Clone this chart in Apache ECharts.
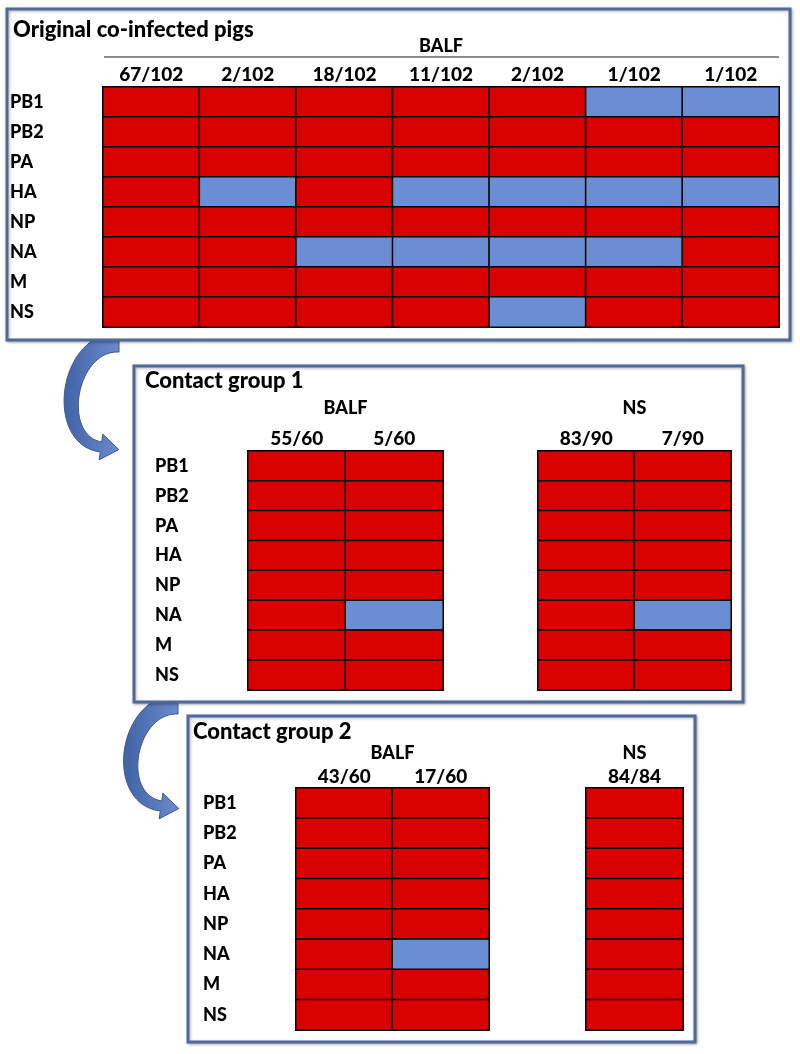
<!DOCTYPE html>
<html><head><meta charset="utf-8">
<script src="https://cdn.jsdelivr.net/npm/echarts@6/dist/echarts.min.js"></script>
<style>html,body{margin:0;padding:0;background:#fff}#c{width:800px;height:1054px}</style>
</head><body><div id="c"></div>
<script>
// ---- data ----
const genes = ['PB1','PB2','PA','HA','NP','NA','M','NS'];
// 1 = red (segment from one parent), 0 = blue (other parent); rows follow genes
const origCols = ['67/102','2/102','18/102','11/102','2/102','1/102','1/102'];
const origBALF = [
  [1,1,1,1,1,0,0],
  [1,1,1,1,1,1,1],
  [1,1,1,1,1,1,1],
  [1,0,1,0,0,0,0],
  [1,1,1,1,1,1,1],
  [1,1,0,0,0,0,1],
  [1,1,1,1,1,1,1],
  [1,1,1,1,0,1,1]
];
const cg1BalfCols = ['55/60','5/60'];
const cg1BALF = [[1,1],[1,1],[1,1],[1,1],[1,1],[1,0],[1,1],[1,1]];
const cg1NsCols = ['83/90','7/90'];
const cg1NS = [[1,1],[1,1],[1,1],[1,1],[1,1],[1,0],[1,1],[1,1]];
const cg2BalfCols = ['43/60','17/60'];
const cg2BALF = [[1,1],[1,1],[1,1],[1,1],[1,1],[1,0],[1,1],[1,1]];
const cg2NsCols = ['84/84'];
const cg2NS = [[1],[1],[1],[1],[1],[1],[1],[1]];

const RED = '#d90000', BLUE = '#6a8dd4';
const FONT = 'Lato';
const FW = 900;

function toData(m){ const d=[]; m.forEach((row,r)=>row.forEach((v,c)=>d.push([c,r,v]))); return d; }

const panels = [
  {cols:origCols, m:origBALF, name:'BALF', genes:true, gap:32, lm:3, g:{left:103, top:87, width:676, height:240}},
  {cols:cg1BalfCols, m:cg1BALF, name:'BALF', genes:true, gap:34, lm:3, g:{left:248, top:451, width:195, height:239}},
  {cols:cg1NsCols, m:cg1NS, name:'NS', genes:false, gap:34, lm:3, g:{left:538, top:451, width:193, height:239}},
  {cols:cg2BalfCols, m:cg2BALF, name:'BALF', genes:true, gap:26, lm:2, g:{left:296, top:788, width:193, height:242}},
  {cols:cg2NsCols, m:cg2NS, name:'NS', genes:false, gap:26, lm:2, g:{left:586, top:788, width:97, height:242}}
];

const grid=[], xAxis=[], yAxis=[], series=[];
panels.forEach((p,i)=>{
  grid.push(Object.assign({containLabel:false}, p.g));
  xAxis.push({type:'category', gridIndex:i, position:'top', data:p.cols, z:10,
    name:p.name, nameLocation:'middle', nameGap:p.gap,
    nameTextStyle:{fontFamily:FONT, fontWeight:FW, fontSize:18, color:'#000'},
    axisLine:{show:false}, axisTick:{show:false}, splitLine:{show:false},
    axisLabel:{fontFamily:FONT, fontWeight:FW, fontSize:19, color:'#000', margin:p.lm}});
  yAxis.push({type:'category', gridIndex:i, data:genes, inverse:true, z:10,
    axisLine:{show:false}, axisTick:{show:false}, splitLine:{show:false},
    axisLabel:{show:p.genes, align:'left', margin:93, fontFamily:FONT, fontWeight:FW, fontSize:18, color:'#000'}});
  series.push({type:'heatmap', xAxisIndex:i, yAxisIndex:i, data:toData(p.m),
    itemStyle:{borderColor:'#000', borderWidth:1.5}, emphasis:{disabled:true}});
});

function arrow(S,C1,C2,E,w0,w1,hw,hl){
  const N=40, L=[], R=[];
  for(let k=0;k<=N;k++){
    const t=k/N, u=1-t;
    const x=u*u*u*S[0]+3*u*u*t*C1[0]+3*u*t*t*C2[0]+t*t*t*E[0];
    const y=u*u*u*S[1]+3*u*u*t*C1[1]+3*u*t*t*C2[1]+t*t*t*E[1];
    const dx=3*u*u*(C1[0]-S[0])+6*u*t*(C2[0]-C1[0])+3*t*t*(E[0]-C2[0]);
    const dy=3*u*u*(C1[1]-S[1])+6*u*t*(C2[1]-C1[1])+3*t*t*(E[1]-C2[1]);
    const l=Math.hypot(dx,dy), nx=-dy/l, ny=dx/l, w=(w0+(w1-w0)*t)/2;
    L.push([x+nx*w,y+ny*w]); R.push([x-nx*w,y-ny*w]);
  }
  const dx=E[0]-C2[0], dy=E[1]-C2[1], l=Math.hypot(dx,dy), ux=dx/l, uy=dy/l, nx=-uy, ny=ux;
  const pts=L.slice();
  pts.push([E[0]+nx*hw,E[1]+ny*hw]);
  pts.push([E[0]+ux*hl,E[1]+uy*hl]);
  pts.push([E[0]-nx*hw,E[1]-ny*hw]);
  for(let k=R.length-1;k>=0;k--) pts.push(R[k]);
  return {type:'polygon', z:0, shape:{points:pts},
    style:{fill:{type:'linear',x:0,y:0,x2:1,y2:0,colorStops:[{offset:0,color:'#4163a5'},{offset:1,color:'#6a8bcc'}]},
      stroke:'#3b5892', lineWidth:1}};
}
function box(x,y,w,h){
  return {type:'rect', z:1, shape:{x:x,y:y,width:w,height:h},
    style:{fill:'#fff', stroke:'#4f6a99', lineWidth:3, shadowBlur:3, shadowColor:'rgba(0,0,0,0.3)', shadowOffsetX:1, shadowOffsetY:1}};
}

const graphic = [
  arrow([119,342],[66,342],[53,440],[101,447],20,10,13,18),
  arrow([178,704],[126,704],[112,799],[161,806],20,10,13,18),
  box(7,9,783,331),
  box(134,366,609,336),
  box(188,716,507,326),
  {type:'line', z:2, shape:{x1:104,y1:57,x2:779,y2:57}, style:{stroke:'#8c8c8c', lineWidth:2}}
];

const tStyle = {fontFamily:FONT, fontWeight:FW, fontSize:22, color:'#000'};
const chart = echarts.init(document.getElementById('c'), null, {renderer:'canvas'});
chart.setOption({
  animation:false,
  backgroundColor:'#fff',
  title:[
    {text:'Original co-infected pigs', left:13, top:19, padding:0, textStyle:tStyle},
    {text:'Contact group 1', left:145, top:370, padding:0, textStyle:tStyle},
    {text:'Contact group 2', left:193, top:721, padding:0, textStyle:tStyle}
  ],
  visualMap:{type:'piecewise', show:false, dimension:2, seriesIndex:[0,1,2,3,4],
    pieces:[{value:1, color:RED},{value:0, color:BLUE}]},
  grid:grid, xAxis:xAxis, yAxis:yAxis, series:series, graphic:graphic
});
</script></body></html>
